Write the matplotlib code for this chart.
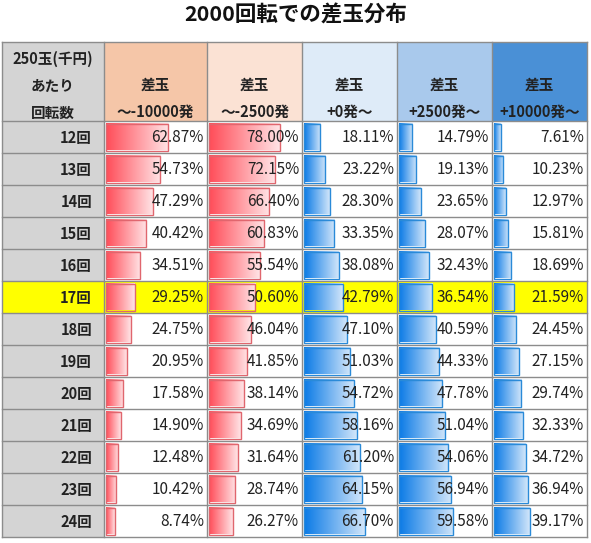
import numpy as np
import matplotlib
matplotlib.use("Agg")
import matplotlib.pyplot as plt
from matplotlib.colors import LinearSegmentedColormap
from matplotlib.patches import Rectangle

plt.rcParams['font.family'] = ['Noto Sans CJK JP', 'DejaVu Sans']

title = "2000回転での差玉分布"
row_labels = ["12回", "13回", "14回", "15回", "16回", "17回", "18回",
              "19回", "20回", "21回", "22回", "23回", "24回"]
corner_label = "250玉(千円)\nあたり\n回転数"
col_labels = ["差玉\n～-10000発", "差玉\n～-2500発", "差玉\n+0発～",
              "差玉\n+2500発～", "差玉\n+10000発～"]

minus_10000 = [62.87, 54.73, 47.29, 40.42, 34.51, 29.25, 24.75, 20.95, 17.58, 14.90, 12.48, 10.42, 8.74]
minus_2500 = [78.00, 72.15, 66.40, 60.83, 55.54, 50.60, 46.04, 41.85, 38.14, 34.69, 31.64, 28.74, 26.27]
plus_0 = [18.11, 23.22, 28.30, 33.35, 38.08, 42.79, 47.10, 51.03, 54.72, 58.16, 61.20, 64.15, 66.70]
plus_2500 = [14.79, 19.13, 23.65, 28.07, 32.43, 36.54, 40.59, 44.33, 47.78, 51.04, 54.06, 56.94, 59.58]
plus_10000 = [7.61, 10.23, 12.97, 15.81, 18.69, 21.59, 24.45, 27.15, 29.74, 32.33, 34.72, 36.94, 39.17]
highlight = "17回"

columns = [minus_10000, minus_2500, plus_0, plus_2500, plus_10000]
header_colors = ["#f5c6a8", "#fbe2d4", "#deebf8", "#a9c9ec", "#4a90d6"]
bar_red = LinearSegmentedColormap.from_list("red", ["#ff4c58", "#ffe4e6"])
bar_blue = LinearSegmentedColormap.from_list("blue", ["#0a7ae6", "#d2e6fa"])
bar_cmaps = [bar_red, bar_red, bar_blue, bar_blue, bar_blue]
bar_edges = ["#e0666e", "#e0666e", "#2a8ad8", "#2a8ad8", "#2a8ad8"]

# table geometry in pixels
W, H = 591, 543
col_x = [2, 104, 207, 302, 397, 492, 587]
head_top, head_bot = 42, 121
row_h = 32
grid = "#8c8c8c"

fig = plt.figure(figsize=(W / 100, H / 100), dpi=100)
ax = fig.add_axes([0, 0, 1, 1])
ax.set_xlim(0, W)
ax.set_ylim(H, 0)
ax.axis("off")

ax.text(W / 2, 15, title, ha="center", va="center", fontsize=15.5,
        fontweight="bold", color="#111111")

# header
ax.add_patch(Rectangle((col_x[0], head_top), col_x[1] - col_x[0],
                       head_bot - head_top, color="#d4d4d4", lw=0))
ax.text((col_x[0] + col_x[1]) / 2, 86, corner_label, ha="center", va="center",
        fontsize=10.5, fontweight="bold", linespacing=1.85, color="#222222")
for j, lab in enumerate(col_labels):
    x0, x1 = col_x[j + 1], col_x[j + 2]
    ax.add_patch(Rectangle((x0, head_top), x1 - x0, head_bot - head_top,
                           color=header_colors[j], lw=0))
    ax.text((x0 + x1) / 2, 98, lab, ha="center", va="center", fontsize=10.5,
            fontweight="bold", linespacing=1.85, color="#222222")

grad = np.linspace(0, 1, 256).reshape(1, -1)
for i, lab in enumerate(row_labels):
    y0 = head_bot + i * row_h
    yc = y0 + row_h / 2
    hl = lab == highlight
    ax.add_patch(Rectangle((col_x[0], y0), col_x[1] - col_x[0], row_h,
                           color="#ffff00" if hl else "#d4d4d4", lw=0))
    if hl:
        ax.add_patch(Rectangle((col_x[1], y0), col_x[-1] - col_x[1], row_h,
                               color="#ffff00", lw=0))
    ax.text(col_x[1] - 12, yc + 1, lab, ha="right", va="center", fontsize=10.5,
            fontweight="bold", color="#222222")
    for j, vals in enumerate(columns):
        x0, x1 = col_x[j + 1], col_x[j + 2]
        v = vals[i]
        bx0 = x0 + 2
        bw = (x1 - x0 - 4) * v / 100
        by0, by1 = y0 + 2.5, y0 + row_h - 2.5
        ax.imshow(grad, cmap=bar_cmaps[j], extent=(bx0, bx0 + bw, by1, by0),
                  aspect="auto", interpolation="bilinear", zorder=2)
        ax.add_patch(Rectangle((bx0, by0), bw, by1 - by0, fill=False,
                               ec=bar_edges[j], lw=1, zorder=3))
        ax.text(x1 - 3, yc + 1, f"{v:.2f}%", ha="right", va="center",
                fontsize=11, color="#222222", zorder=4)

# grid lines
bottom = head_bot + len(row_labels) * row_h
for x in col_x:
    ax.plot([x, x], [head_top, bottom], color=grid, lw=1.0, zorder=5)
for k in range(len(row_labels) + 1):
    y = head_bot + k * row_h
    ax.plot([col_x[0], col_x[-1]], [y, y], color=grid, lw=1.0, zorder=5)
ax.plot([col_x[0], col_x[-1]], [head_top, head_top], color=grid, lw=1.0, zorder=5)

ax.set_xlim(0, W)
ax.set_ylim(H, 0)
fig.savefig("out.png", dpi=100)
